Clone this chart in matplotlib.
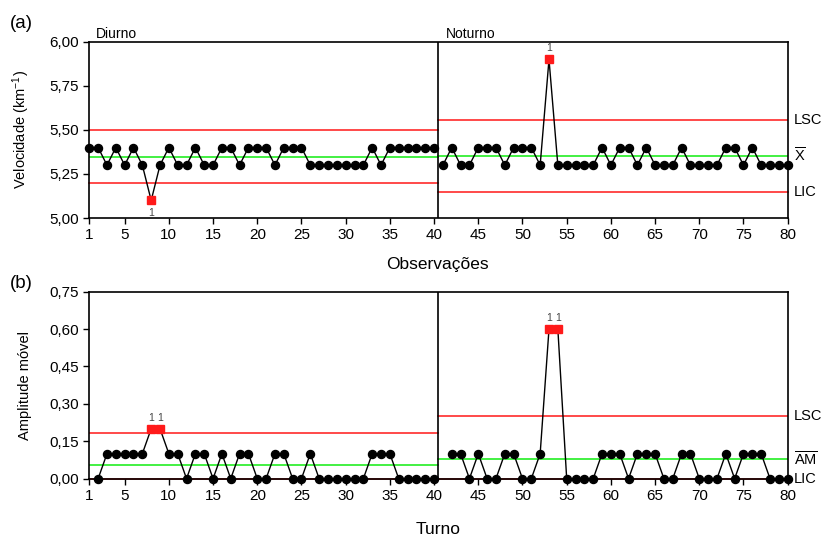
import numpy as np
import matplotlib
matplotlib.use("Agg")
import matplotlib.pyplot as plt

plt.rcParams['font.family'] = ['Liberation Sans', 'DejaVu Sans']
plt.rcParams['mathtext.fontset'] = 'custom'
plt.rcParams['mathtext.rm'] = 'Liberation Sans'
plt.rcParams['mathtext.it'] = 'Liberation Sans'

# velocidade por observacao
obs_diurno = list(range(1, 41))
vel_diurno = [5.4, 5.4, 5.3, 5.4, 5.3, 5.4, 5.3, 5.1, 5.3, 5.4,
              5.3, 5.3, 5.4, 5.3, 5.3, 5.4, 5.4, 5.3, 5.4, 5.4,
              5.4, 5.3, 5.4, 5.4, 5.4, 5.3, 5.3, 5.3, 5.3, 5.3,
              5.3, 5.3, 5.4, 5.3, 5.4, 5.4, 5.4, 5.4, 5.4, 5.4]
obs_noturno = list(range(41, 81))
vel_noturno = [5.3, 5.4, 5.3, 5.3, 5.4, 5.4, 5.4, 5.3, 5.4, 5.4,
               5.4, 5.3, 5.9, 5.3, 5.3, 5.3, 5.3, 5.3, 5.4, 5.3,
               5.4, 5.4, 5.3, 5.4, 5.3, 5.3, 5.3, 5.4, 5.3, 5.3,
               5.3, 5.3, 5.4, 5.4, 5.3, 5.4, 5.3, 5.3, 5.3, 5.3]

# amplitude movel
turno_diurno = list(range(2, 41))
am_diurno = [0.0, 0.1, 0.1, 0.1, 0.1, 0.1, 0.2, 0.2, 0.1, 0.1,
             0.0, 0.1, 0.1, 0.0, 0.1, 0.0, 0.1, 0.1, 0.0, 0.0,
             0.1, 0.1, 0.0, 0.0, 0.1, 0.0, 0.0, 0.0, 0.0, 0.0,
             0.0, 0.1, 0.1, 0.1, 0.0, 0.0, 0.0, 0.0, 0.0]
turno_noturno = list(range(42, 81))
am_noturno = [0.1, 0.1, 0.0, 0.1, 0.0, 0.0, 0.1, 0.1, 0.0, 0.0,
              0.1, 0.6, 0.6, 0.0, 0.0, 0.0, 0.0, 0.1, 0.1, 0.1,
              0.0, 0.1, 0.1, 0.1, 0.0, 0.0, 0.1, 0.1, 0.0, 0.0,
              0.0, 0.1, 0.0, 0.1, 0.1, 0.1, 0.0, 0.0, 0.0]

# limites (LSC, media, LIC)
lim_vel_diurno = [5.497, 5.3475, 5.197]
lim_vel_noturno = [5.557, 5.3525, 5.148]
lim_am_diurno = [0.184, 0.0564, 0.0]
lim_am_noturno = [0.251, 0.0769, 0.0]

RED = '#ff2a2a'
GREEN = '#22ee22'

fig = plt.figure(figsize=(8.23, 5.43), dpi=100)
ax1 = fig.add_axes([0.1085, 0.5985, 0.8486, 0.3245])
ax2 = fig.add_axes([0.1085, 0.1185, 0.8486, 0.3445])


def draw_stage(ax, x, y, lims, x0, x1):
    x = np.array(x)
    y = np.array(y)
    lsc, mid, lic = lims
    ax.plot([x0, x1], [lsc, lsc], color=RED, lw=1.2, zorder=1)
    ax.plot([x0, x1], [lic, lic], color=RED, lw=1.2, zorder=1, clip_on=False)
    ax.plot([x0, x1], [mid, mid], color=GREEN, lw=1.2, zorder=1)
    ax.plot(x, y, color='black', lw=1.0, zorder=2, clip_on=False)
    out = (y > lsc + 1e-9) | (y < lic - 1e-9)
    ax.plot(x[~out], y[~out], 'o', color='black', ms=5.8, zorder=3, clip_on=False)
    ax.plot(x[out], y[out], 's', color='#ff1a1a', ms=5.3, zorder=4, clip_on=False)


# (a) velocidade
draw_stage(ax1, obs_diurno, vel_diurno, lim_vel_diurno, 1, 40.5)
draw_stage(ax1, obs_noturno, vel_noturno, lim_vel_noturno, 40.5, 80)
ax1.annotate('1', (8, 5.1), xytext=(0, -9), textcoords='offset points',
             ha='center', va='center', fontsize=7.5, color='#444444')
ax1.annotate('1', (53, 5.9), xytext=(0, 8), textcoords='offset points',
             ha='center', va='center', fontsize=7.5, color='#444444')
ax1.set_ylim(5.0, 6.0)
ax1.set_yticks([5.0, 5.25, 5.5, 5.75, 6.0])
ax1.set_yticklabels(['5,00', '5,25', '5,50', '5,75', '6,00'])
ax1.set_ylabel('Velocidade (km$^{-1}$)', fontsize=10.5)

# (b) amplitude movel
draw_stage(ax2, turno_diurno, am_diurno, lim_am_diurno, 1, 40.5)
draw_stage(ax2, turno_noturno, am_noturno, lim_am_noturno, 40.5, 80)
for xi, yi in [(8, 0.2), (9, 0.2), (53, 0.6), (54, 0.6)]:
    ax2.annotate('1', (xi, yi), xytext=(0, 8), textcoords='offset points',
                 ha='center', va='center', fontsize=7.5, color='#444444')
ax2.set_ylim(0, 0.75)
ax2.set_yticks([0, 0.15, 0.30, 0.45, 0.60, 0.75])
ax2.set_yticklabels(['0,00', '0,15', '0,30', '0,45', '0,60', '0,75'])
ax2.set_ylabel('Amplitude móvel', fontsize=10.5)

for ax in (ax1, ax2):
    ax.set_xlim(1, 80)
    ax.set_xticks([1, 5, 10, 15, 20, 25, 30, 35, 40, 45, 50, 55, 60, 65, 70, 75, 80])
    ax.axvline(40.5, color='black', lw=1.2, zorder=5)
    ax.tick_params(direction='out', length=4.5, width=1, labelsize=11, pad=3)
    ax.yaxis.set_label_coords(-0.082, 0.5)
    for s in ax.spines.values():
        s.set_linewidth(1.2)

ax1.text(1.8, 1.005, 'Diurno', transform=ax1.get_xaxis_transform(),
         ha='left', va='bottom', fontsize=10)
ax1.text(41.3, 1.005, 'Noturno', transform=ax1.get_xaxis_transform(),
         ha='left', va='bottom', fontsize=10)

# rotulos a direita
for ax, lims, names in [(ax1, lim_vel_noturno, ['LSC', r'$\overline{\mathrm{X}}$', 'LIC']),
                        (ax2, lim_am_noturno, ['LSC', r'$\overline{\mathrm{AM}}$', 'LIC'])]:
    for v, t in zip(lims, names):
        ax.text(1.0085, v, t, transform=ax.get_yaxis_transform(),
                ha='left', va='center', fontsize=10.5)

fig.text(0.532, 0.512, 'Observações', ha='center', va='center', fontsize=12.5)
fig.text(0.532, 0.025, 'Turno', ha='center', va='center', fontsize=12.5)
fig.text(0.012, 0.957, '(a)', ha='left', va='center', fontsize=13.5)
fig.text(0.012, 0.478, '(b)', ha='left', va='center', fontsize=13.5)

fig.savefig('out.png', dpi=100)
